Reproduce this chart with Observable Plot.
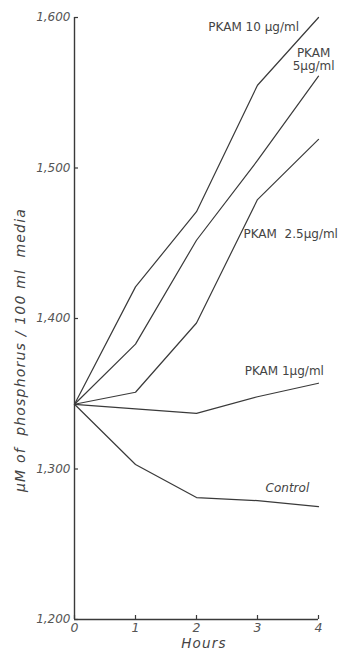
<!DOCTYPE html>
<html>
<head>
<meta charset="utf-8">
<script src="https://cdn.jsdelivr.net/npm/d3@7"></script>
<script src="https://cdn.jsdelivr.net/npm/@observablehq/plot@0.6"></script>
<style>
  html, body { margin: 0; padding: 0; background: #fff; }
  svg { display: block; }
</style>
</head>
<body>
<div id="chart"></div>
<script>
const hours = [0, 1, 2, 3, 4];
const control = [1343, 1303, 1281, 1279, 1275];
const pkam1 = [1343, 1340, 1337, 1348, 1357];
const pkam25 = [1343, 1351, 1397, 1479, 1519];
const pkam5 = [1343, 1383, 1452, 1505, 1561];
const pkam10 = [1343, 1421, 1471, 1555, 1600];

const seriesNames = ["Control", "PKAM 1µg/ml", "PKAM 2.5µg/ml", "PKAM 5µg/ml", "PKAM 10µg/ml"];
const seriesValues = [control, pkam1, pkam25, pkam5, pkam10];

const yTicks = [1200, 1300, 1400, 1500, 1600];
const yTickLabels = ["1,200", "1,300", "1,400", "1,500", "1,600"];
const xTicks = [0, 1, 2, 3, 4];

// annotation labels (anchored in data coordinates)
const labelText = ["PKAM 10 µg/ml", "PKAM\n5µg/ml", "PKAM  2.5µg/ml", "PKAM 1µg/ml", "Control"];
const labelX = [3.68, 3.92, 2.77, 2.79, 3.49];
const labelY = [1594, 1572, 1456, 1365, 1287];
const labelAnchor = ["end", "middle", "start", "start", "middle"];
const labelItalic = [false, false, false, false, true];

const rows = [];
seriesNames.forEach((s, i) => hours.forEach((h, j) => rows.push({series: s, hour: h, value: seriesValues[i][j]})));
const labels = labelText.map((t, i) => ({text: t, x: labelX[i], y: labelY[i], anchor: labelAnchor[i], italic: labelItalic[i]}));

const ink = "#3a3a3a";
const font = "'DejaVu Sans', sans-serif";

const labelMarks = ["start", "middle", "end"].map((a) =>
  Plot.text(labels.filter((d) => d.anchor === a && !d.italic), {
    x: "x", y: "y", text: "text", textAnchor: a,
    fontSize: 12, fill: "#444", lineHeight: 1.1, letterSpacing: "0.5px"
  })
);

const chart = Plot.plot({
  width: 349,
  height: 651,
  marginLeft: 74,
  marginRight: 31,
  marginTop: 17,
  marginBottom: 32,
  style: {fontFamily: font, color: ink, background: "#fff"},
  x: {domain: [0, 4]},
  y: {domain: [1200, 1600]},
  marks: [
    Plot.ruleX([0], {y1: 1200, y2: 1600, stroke: ink, strokeWidth: 1.4}),
    Plot.ruleY([1200], {x1: 0, x2: 4, stroke: ink, strokeWidth: 1.4}),
    Plot.axisY(yTicks, {
      anchor: "left", tickSize: -4, tickPadding: 8, stroke: ink, strokeWidth: 1.2,
      tickFormat: (d) => yTickLabels[yTicks.indexOf(d)],
      fontSize: 12, fontStyle: "italic", fill: "#555", label: null
    }),
    Plot.axisX(xTicks, {
      anchor: "bottom", tickSize: -4, tickPadding: 8, stroke: ink, strokeWidth: 1.2,
      fontSize: 12.5, fontStyle: "italic", fill: "#555", label: null,
      tickFormat: (d) => String(d)
    }),
    Plot.line(rows, {x: "hour", y: "value", z: "series", stroke: ink, strokeWidth: 1.2, curve: "linear"}),
    ...labelMarks,
    Plot.text(labels.filter((d) => d.italic), {
      x: "x", y: "y", text: "text", textAnchor: "middle",
      fontSize: 12, fill: "#444", fontStyle: "italic", letterSpacing: "1.2px"
    })
  ]
});

// axis titles as real text in the SVG
const svg = d3.select(chart);
svg.append("text")
  .attr("x", 204).attr("y", 648)
  .attr("text-anchor", "middle")
  .attr("font-family", font).attr("font-size", 13.5).attr("font-style", "italic")
  .attr("letter-spacing", "1.2px")
  .attr("fill", "#444")
  .text("Hours");
svg.append("text")
  .attr("transform", "translate(25,350) rotate(-90)")
  .attr("text-anchor", "middle")
  .attr("font-family", font).attr("font-size", 14).attr("font-style", "italic")
  .attr("letter-spacing", "1.2px")
  .attr("fill", "#444")
  .text("µM of  phosphorus / 100 ml  media");

document.getElementById("chart").appendChild(chart);
</script>
</body>
</html>
